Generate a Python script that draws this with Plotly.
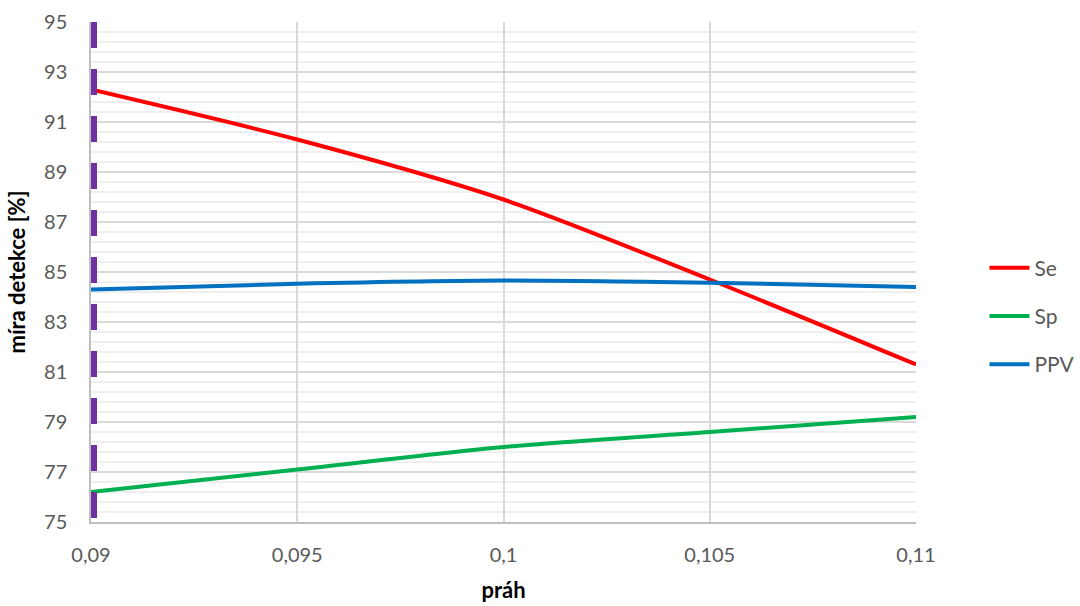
import plotly.graph_objects as go

# Detection rates versus threshold
prah = [0.09, 0.095, 0.1, 0.105, 0.11]
se = [92.3, 90.3, 87.9, 84.7, 81.3]
sp = [76.2, 77.1, 78.0, 78.6, 79.2]
ppv = [84.3, 84.53, 84.66, 84.57, 84.4]

x_tick_vals = [0.09, 0.095, 0.1, 0.105, 0.11]
x_tick_text = ["0,09", "0,095", "0,1", "0,105", "0,11"]

zvoleny_prah = 0.09

FONT = "Lato, 'Open Sans', sans-serif"
GRAY = "#595959"

fig = go.Figure()

for name, vals, color in [("Se", se, "#FF0000"), ("Sp", sp, "#00B050"), ("PPV", ppv, "#0070C0")]:
    fig.add_trace(go.Scatter(
        x=prah, y=vals, name=name, mode="lines", legendgroup=name,
        line=dict(color=color, width=4, shape="spline", smoothing=0.8),
    ))

# Selected threshold marker (half of it is clipped by the plot area)
fig.add_shape(
    type="line", xref="x", yref="y",
    x0=zvoleny_prah, x1=zvoleny_prah, y0=95, y1=75,
    line=dict(color="#7030A0", width=12, dash="26px,21px"),
    layer="above",
)

fig.update_layout(
    width=1080, height=606,
    margin=dict(l=91, r=164, t=22, b=84, autoexpand=False),
    paper_bgcolor="white", plot_bgcolor="white",
    font=dict(family=FONT, size=20, color=GRAY),
    separators=", ",
    showlegend=True,
    legend=dict(
        x=1.083, y=0.412, xanchor="left", yanchor="middle",
        font=dict(family=FONT, size=21, color=GRAY),
        tracegroupgap=18, bgcolor="rgba(0,0,0,0)",
        itemwidth=40,
    ),
)

fig.update_xaxes(
    range=[0.09, 0.11], automargin=False,
    tickvals=x_tick_vals, ticktext=x_tick_text,
    showgrid=True, gridcolor="#d9d9d9", gridwidth=1.5,
    showline=True, linecolor="#bfbfbf", linewidth=1.5,
    zeroline=False,
    ticks="outside", ticklen=14, tickcolor="rgba(0,0,0,0)",
    tickfont=dict(family=FONT, size=20, color=GRAY),
    title=dict(text="<b>práh</b>", font=dict(family=FONT, size=22, color="black"), standoff=18),
)

fig.update_yaxes(
    range=[75, 95], tick0=75, dtick=2, automargin=False,
    showgrid=True, gridcolor="#d9d9d9", gridwidth=1.5,
    minor=dict(tick0=75, dtick=0.4, showgrid=True, gridcolor="#efefef", gridwidth=1.5),
    showline=True, linecolor="#bfbfbf", linewidth=1.5,
    zeroline=False,
    ticks="outside", ticklen=18, tickcolor="rgba(0,0,0,0)",
    tickfont=dict(family=FONT, size=20, color=GRAY),
    title=dict(text="<b>míra detekce [%]</b>", font=dict(family=FONT, size=22, color="black"), standoff=12),
)

fig.write_html("out.html")
